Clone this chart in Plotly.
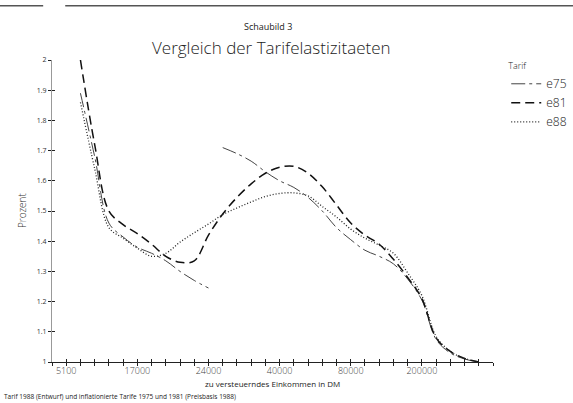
import plotly.graph_objects as go

# x positions are equally spaced income classes (index on the axis)
idx = list(range(2, 31))
tick_idx = list(range(0, 32))
label_idx = [1, 6, 11, 16, 21, 26]
label_txt = ["5100", "17000", "24000", "40000", "80000", "200000"]

e81 = [2.00, 1.72, 1.50, 1.455, 1.425, 1.39, 1.35, 1.33, 1.335, 1.42, 1.49, 1.545,
       1.59, 1.625, 1.645, 1.648, 1.625, 1.58, 1.52, 1.46, 1.42, 1.39, 1.34, 1.28,
       1.21, 1.08, 1.035, 1.012, 1.0]
e88 = [1.86, 1.64, 1.445, 1.41, 1.377, 1.35, 1.36, 1.397, 1.428, 1.457, 1.488, 1.51,
       1.53, 1.548, 1.558, 1.56, 1.55, 1.515, 1.48, 1.44, 1.41, 1.387, 1.36, 1.295,
       1.22, 1.085, 1.035, 1.012, 1.0]
e75_idx_a = list(range(2, 12))
e75_a = [1.89, 1.68, 1.46, 1.414, 1.38, 1.36, 1.335, 1.30, 1.27, 1.245]
e75_idx_b = list(range(12, 31))
e75_b = [1.71, 1.69, 1.665, 1.63, 1.60, 1.578, 1.545, 1.50, 1.445, 1.405, 1.37, 1.35,
         1.325, 1.275, 1.205, 1.075, 1.03, 1.01, 1.0]

y_ticks = [1.0, 1.1, 1.2, 1.3, 1.4, 1.5, 1.6, 1.7, 1.8, 1.9, 2.0]
y_text = ["1", "1.1", "1.2", "1.3", "1.4", "1.5", "1.6", "1.7", "1.8", "1.9", "2"]

FONT = "Open Sans"
fig = go.Figure()

fig.add_trace(go.Scatter(x=e75_idx_a, y=e75_a, name="e75", mode="lines",
                         legendgroup="e75", line=dict(color="#444", width=1,
                         dash="14px,4px,3px,4px", shape="spline")))
fig.add_trace(go.Scatter(x=e75_idx_b, y=e75_b, name="e75", mode="lines",
                         legendgroup="e75", showlegend=False,
                         line=dict(color="#444", width=1,
                         dash="14px,4px,3px,4px", shape="spline")))
fig.add_trace(go.Scatter(x=idx, y=e81, name="e81", mode="lines",
                         line=dict(color="#111", width=1.5, dash="9px,5px",
                                   shape="spline")))
fig.add_trace(go.Scatter(x=idx, y=e88, name="e88", mode="lines",
                         line=dict(color="#222", width=1.3, dash="1px,2px",
                                   shape="spline")))
# invisible trace to register the overlay axes used for the crossing tick marks
fig.add_trace(go.Scatter(x=idx, y=e88, xaxis="x2", yaxis="y2", mode="lines",
                         line=dict(width=0.1, color="rgba(0,0,0,0)"),
                         showlegend=False, hoverinfo="skip"))

ticktext = [label_txt[label_idx.index(i)] if i in label_idx else "" for i in tick_idx]

fig.update_layout(
    width=573, height=403,
    margin=dict(l=52, r=80, t=60, b=41, autoexpand=False),
    paper_bgcolor="white", plot_bgcolor="white",
    font=dict(family=FONT, color="#222"),
    showlegend=True,
    legend=dict(x=1.03, y=1.008, xanchor="left", yanchor="top",
                title=dict(text="Tarif", font=dict(size=9, family=FONT)),
                font=dict(size=12, family=FONT, weight=300), tracegroupgap=0,
                bgcolor="rgba(0,0,0,0)"),
    xaxis=dict(range=[0, 31], tickmode="array", tickvals=tick_idx, ticktext=ticktext,
               ticks="outside", ticklen=3, tickcolor="#222", tickwidth=1,
               ticklabelstandoff=-3, automargin=False,
               showline=True, linecolor="#222", linewidth=1, showgrid=False,
               zeroline=False, tickfont=dict(size=9, family=FONT, color="#444", weight=300)),
    yaxis=dict(range=[1, 2], tickmode="array", tickvals=y_ticks, ticktext=y_text,
               ticks="outside", ticklen=3, tickcolor="#222", tickwidth=1,
               automargin=False,
               showline=True, linecolor="#999", linewidth=1, showgrid=False,
               zeroline=False, tickfont=dict(size=7, family=FONT, color="#333")),
    xaxis2=dict(range=[0, 31], overlaying="x", anchor="y", side="bottom",
                tickmode="array", tickvals=tick_idx, showticklabels=False,
                ticks="inside", ticklen=3, tickcolor="#222", showgrid=False,
                zeroline=False, showline=False),
    yaxis2=dict(range=[1, 2], overlaying="y", anchor="x", side="left",
                tickmode="array", tickvals=y_ticks, showticklabels=False,
                ticks="inside", ticklen=3, tickcolor="#222", showgrid=False,
                zeroline=False, showline=False),
)

annos = [
    dict(text="Schaubild 3", x=0.49, y=1.112, size=9, w=400),
    dict(text="Vergleich der Tarifelastizitaeten", x=0.497, y=1.043, size=17, w=300),
    dict(text="zu versteuerndes Einkommen in DM", x=0.501, y=-0.072, size=8, w=400),
]
for a in annos:
    fig.add_annotation(text=a["text"], x=a["x"], y=a["y"], xref="paper", yref="paper",
                       xanchor="center", yanchor="middle", showarrow=False,
                       font=dict(size=a["size"], family=FONT, color="#222", weight=a["w"]))
fig.add_annotation(text="Prozent", x=-0.068, y=0.503, xref="paper", yref="paper",
                   textangle=-90, showarrow=False, xanchor="center", yanchor="middle",
                   font=dict(size=10, family=FONT, color="#333", weight=300))
fig.add_annotation(text="Tarif 1988 (Entwurf) und inflationierte Tarife 1975 und 1981 (Preisbasis 1988)",
                   x=-0.113, y=-0.113, xref="paper", yref="paper", xanchor="left",
                   yanchor="middle", showarrow=False,
                   font=dict(size=6.5, family=FONT, color="#222"))

# scan edge lines at the top of the page
fig.add_shape(type="line", xref="paper", yref="paper", x0=-0.118, x1=-0.02,
              y0=1.18, y1=1.18, line=dict(color="#555", width=1.5))
fig.add_shape(type="line", xref="paper", yref="paper", x0=0.03, x1=1.19,
              y0=1.18, y1=1.18, line=dict(color="#555", width=1.5))

fig.write_html("out.html", config={"displayModeBar": False},
               post_script="document.body.style.margin='0';")
